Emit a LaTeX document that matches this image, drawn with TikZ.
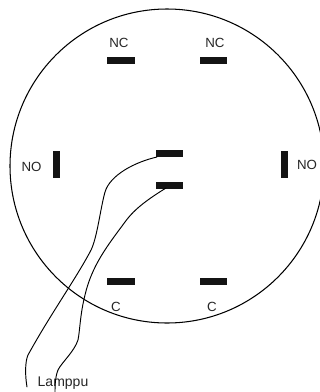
\documentclass[tikz,border=0pt]{standalone}
\usepackage{fontspec}
\setmainfont{Liberation Sans}
\tikzset{
  hbar/.style={fill=black!92,draw=none,minimum width=27.5pt,minimum height=7pt,inner sep=0pt,outer sep=0pt},
  vbar/.style={fill=black!92,draw=none,minimum width=7pt,minimum height=27.5pt,inner sep=0pt,outer sep=0pt},
  lbl/.style={inner sep=0pt,text=black!85,font=\fontsize{13.3}{15}\selectfont},
  wire/.style={draw=black,line width=0.95pt,line cap=round},
}
\begin{document}
\begin{tikzpicture}[x=1pt,y=-1pt]
\useasboundingbox (0,0) rectangle (320,392);
\clip (0,0) rectangle (320,392);
\fill[white] (0,0) rectangle (320,392);
\node[draw=black,line width=1.05pt,circle,minimum size=314pt,inner sep=0pt] (dial) at (167,166) {};
\node[hbar] (nc1) at (121,60.5) {};
\node[hbar] (nc2) at (213.5,60.5) {};
\node[hbar] (m1) at (169.5,153.5) {};
\node[hbar] (m2) at (169.5,185) {};
\node[hbar] (c1) at (121,281) {};
\node[hbar] (c2) at (213.5,281) {};
\node[vbar] (no1) at (56.5,164.5) {};
\node[vbar] (no2) at (284,164.5) {};
\node[lbl] (tnc1) at (119,43) {NC};
\node[lbl] (tnc2) at (215,43) {NC};
\node[lbl] (tno1) at (31.5,167) {NO};
\node[lbl] (tno2) at (307,165) {NO};
\node[lbl] (tc1) at (116,307) {C};
\node[lbl] (tc2) at (212,307) {C};
\node[lbl,font=\fontsize{14}{16}\selectfont] (tl) at (63,383.5) {Lamppu};
\coordinate (w1a) at (157,157);
\coordinate (w1b) at (27,387);
\coordinate (w2a) at (166,188);
\coordinate (w2b) at (55,392);
\draw[wire] (w1a) .. controls (135,162) and (110,175) .. (105,192)
  .. controls (100,210) and (97,240) .. (90,252)
  .. controls (75,280) and (50,315) .. (28,355)
  .. controls (25,362) and (25,375) .. (w1b);
\draw[wire] (w2a) .. controls (150,198) and (135,208) .. (125,222)
  .. controls (108,245) and (92,265) .. (85,295)
  .. controls (80,315) and (80,330) .. (78,340)
  .. controls (74,352) and (62,362) .. (58,370)
  .. controls (55,378) and (55,385) .. (w2b);
\end{tikzpicture}
\end{document}
